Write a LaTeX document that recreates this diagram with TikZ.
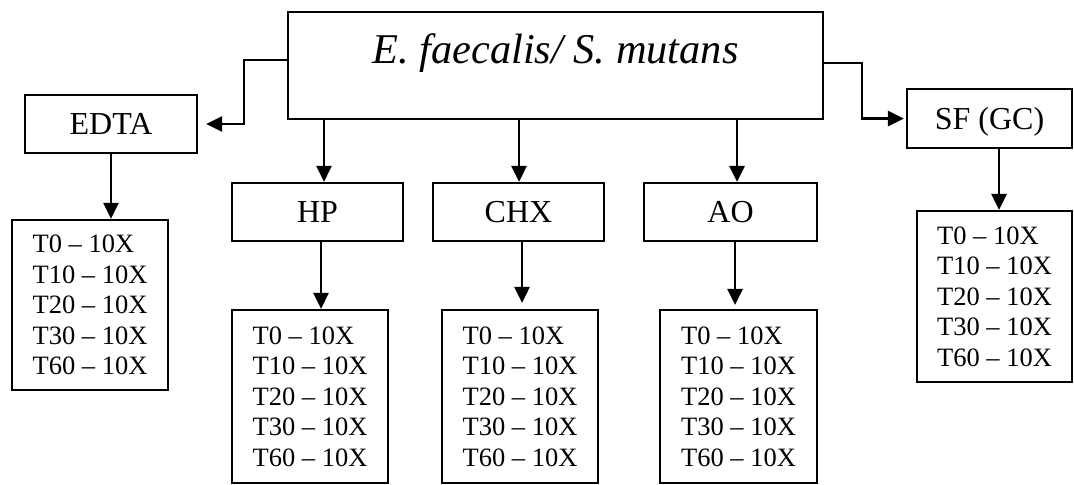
\documentclass[tikz,border=0pt]{standalone}
\usepackage{fontspec}
\setmainfont{Liberation Serif}
\usetikzlibrary{arrows.meta}
\begin{document}
\begin{tikzpicture}[x=0.5pt,y=-0.5pt,
  rbox/.style={draw, line width=1.1pt, inner sep=0pt},
  tagbox/.style={rbox, minimum height=29pt, font=\fontsize{16}{19}\selectfont, text height=10.6pt, text depth=0pt},
  listbox/.style={rbox, align=left, font=\fontsize{13.25}{15.25}\selectfont},
  arr/.style={line width=1.4pt, -{Triangle[length=8pt,width=7.5pt]}}]
\useasboundingbox (0,0) rectangle (1074,484);
% main box
\node[rbox, minimum width=267.5pt, minimum height=53.5pt,
      font=\fontsize{21.2}{25}\selectfont\itshape,
      text height=15pt, text depth=17.5pt] (top) at (555.5,65.5) {E. faecalis/ S. mutans};
% treatment boxes
\node[tagbox, minimum width=86pt] (EDTA) at (111,124) {EDTA};
\node[tagbox, minimum width=85.5pt] (HP) at (317.5,212) {HP};
\node[tagbox, minimum width=85.5pt] (CHX) at (518.5,212) {CHX};
\node[tagbox, minimum width=86.5pt] (AO) at (730.5,212) {AO};
\node[tagbox, minimum width=82.5pt, minimum height=29.5pt] (SF) at (989.5,118.5) {SF (GC)};
% time lists
\node[listbox, minimum width=78pt, minimum height=85pt] (EDTAl) at (90,305)
  {T0 – 10X\\T10 – 10X\\T20 – 10X\\T30 – 10X\\T60 – 10X};
\node[listbox, minimum width=78pt, minimum height=86.5pt] (HPl) at (310,396.5)
  {T0 – 10X\\T10 – 10X\\T20 – 10X\\T30 – 10X\\T60 – 10X};
\node[listbox, minimum width=78pt, minimum height=86.5pt] (CHXl) at (520,396.5)
  {T0 – 10X\\T10 – 10X\\T20 – 10X\\T30 – 10X\\T60 – 10X};
\node[listbox, minimum width=78.5pt, minimum height=86.5pt] (AOl) at (738.5,396.5)
  {T0 – 10X\\T10 – 10X\\T20 – 10X\\T30 – 10X\\T60 – 10X};
\node[listbox, minimum width=77.5pt, minimum height=85.5pt] (SFl) at (994.5,296.5)
  {T0 – 10X\\T10 – 10X\\T20 – 10X\\T30 – 10X\\T60 – 10X};
% connectors from main box
\draw[arr, shorten >=4pt] (top.west |- 0,60) -| (EDTA.east -| 244,0) -- (EDTA.east);
\draw[arr, shorten >=1pt] (top.east |- 0,63) -| (SF.west -| 862,0) -- (SF.west);
\draw[arr] (top.south -| 324,0) -- (HP.north -| 324,0);
\draw[arr] (top.south -| 519,0) -- (CHX.north -| 519,0);
\draw[arr] (top.south -| 737,0) -- (AO.north -| 737,0);
% connectors to lists
\draw[arr] (EDTA.south -| 111,0) -- (EDTAl.north -| 111,0);
\draw[arr] (HP.south -| 321,0) -- (HPl.north -| 321,0);
\draw[arr, shorten >=3pt] (CHX.south -| 522,0) -- (CHXl.north -| 522,0);
\draw[arr, shorten >=2pt] (AO.south -| 735,0) -- (AOl.north -| 735,0);
\draw[arr] (SF.south -| 999,0) -- (SFl.north -| 999,0);
\end{tikzpicture}
\end{document}
